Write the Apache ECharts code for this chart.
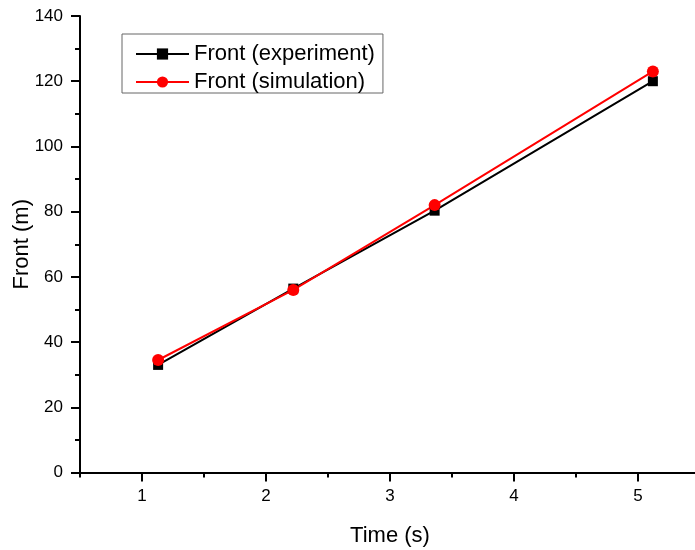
<!DOCTYPE html>
<html>
<head>
<meta charset="utf-8">
<script src="https://cdn.jsdelivr.net/npm/echarts@6/dist/echarts.min.js"></script>
<style>
html,body{margin:0;padding:0;background:#fff;}
#c{width:695px;height:550px;}
</style>
</head>
<body>
<div id="c"></div>
<script>
var timeValues = [1.13, 2.22, 3.36, 5.12];
var experimentValues = [33.0, 56.4, 80.3, 120.0];
var simulationValues = [34.5, 56.0, 82.0, 123.0];
var xMajorTicks = [1, 2, 3, 4, 5];
var xMinorTicks = [0.5, 1.5, 2.5, 3.5, 4.5, 5.5];
var seriesNames = ['Front (experiment)', 'Front (simulation)'];

function pairs(xs, ys) { return xs.map(function (x, i) { return [x, ys[i]]; }); }

var font = '"Liberation Sans", Arial, sans-serif';
var chart = echarts.init(document.getElementById('c'), null, {renderer: 'canvas'});
chart.setOption({
  animation: false,
  backgroundColor: '#fff',
  grid: {left: 80, right: -5, top: 16, bottom: 77.5, containLabel: false, outerBoundsMode: 'none'},
  legend: {
    orient: 'vertical',
    left: 122, top: 34,
    padding: [9, 8, 0, 13],
    itemGap: 6,
    itemWidth: 53, itemHeight: 14,
    borderColor: '#666', borderWidth: 1,
    backgroundColor: '#fff',
    textStyle: {fontFamily: font, fontSize: 22, color: '#000'},
    data: seriesNames
  },
  xAxis: [{
    type: 'value', min: 0.5, max: 5.5,
    name: 'Time (s)', nameLocation: 'middle', nameGap: 52,
    nameTextStyle: {fontFamily: font, fontSize: 22, color: '#000'},
    axisLine: {show: true, onZero: false, lineStyle: {color: '#000', width: 2}},
    axisTick: {show: true, inside: false, length: 9, lineStyle: {color: '#000', width: 2}, customValues: xMajorTicks},
    axisLabel: {fontFamily: font, fontSize: 17, color: '#000', margin: 15, customValues: xMajorTicks},
    splitLine: {show: false}
  }, {
    type: 'value', min: 0.5, max: 5.5, position: 'bottom',
    axisLine: {show: false, onZero: false},
    axisTick: {show: true, inside: false, length: 5, lineStyle: {color: '#000', width: 2}, customValues: xMinorTicks},
    axisLabel: {show: false},
    splitLine: {show: false}
  }],
  yAxis: {
    type: 'value', min: 0, max: 140, interval: 20,
    name: 'Front (m)', nameLocation: 'middle', nameGap: 47, nameMoveOverlap: false,
    nameTextStyle: {fontFamily: font, fontSize: 22, color: '#000'},
    axisLine: {show: true, onZero: false, lineStyle: {color: '#000', width: 2}},
    axisTick: {show: true, inside: false, length: 9, lineStyle: {color: '#000', width: 2}},
    minorTick: {show: true, splitNumber: 2, length: 5, lineStyle: {color: '#000', width: 2}},
    axisLabel: {fontFamily: font, fontSize: 17, color: '#000', margin: 17},
    splitLine: {show: false}
  },
  series: [{
    name: seriesNames[0], type: 'line', xAxisIndex: 0,
    data: pairs(timeValues, experimentValues),
    symbol: 'rect', symbolSize: 10,
    lineStyle: {color: '#000', width: 2},
    itemStyle: {color: '#000'}
  }, {
    name: seriesNames[1], type: 'line', xAxisIndex: 0,
    data: pairs(timeValues, simulationValues),
    symbol: 'circle', symbolSize: 12,
    lineStyle: {color: '#f00', width: 2},
    itemStyle: {color: '#f00'}
  }]
});
</script>
</body>
</html>
